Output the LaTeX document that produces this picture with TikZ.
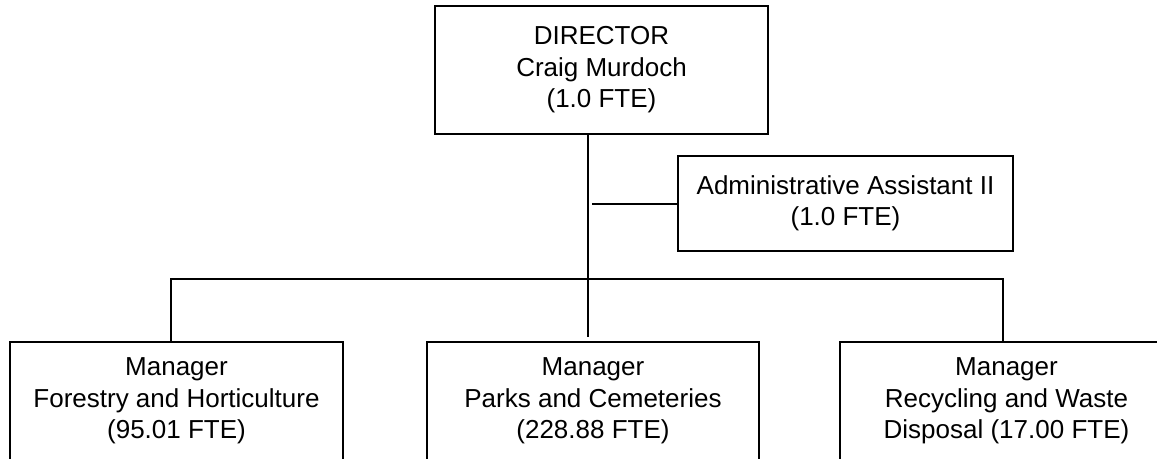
\documentclass[tikz,border=0pt]{standalone}
\usepackage{fontspec}
\setmainfont{Liberation Sans}
\begin{document}
\begin{tikzpicture}[x=1pt,y=-1pt,
  orgbox/.style={draw=black,line width=2.2pt,fill=white,rectangle,anchor=north west,
    align=center,inner sep=0pt,outer sep=0pt,
    font=\fontsize{26}{31.5}\selectfont},
  link/.style={draw=black,line width=2pt}]
  \useasboundingbox (0,0) rectangle (1157,458);
  \clip (0,0) rectangle (1157,458);

  % director and assistant
  \node[orgbox,minimum width=333,minimum height=128] (dir) at (435,6)
    {DIRECTOR\\Craig Murdoch\\(1.0 FTE)};
  \node[orgbox,minimum width=335,minimum height=95] (adm) at (678,156)
    {Administrative Assistant II\\(1.0 FTE)};

  % managers (boxes run past the lower edge)
  \node[orgbox,minimum width=333,minimum height=118] (m1) at (10,342)
    {Manager\\Forestry and Horticulture\\(95.01 FTE)};
  \node[orgbox,minimum width=332,minimum height=118] (m2) at (427,342)
    {Manager\\Parks and Cemeteries\\(228.88 FTE)};
  \node[orgbox,minimum width=333,minimum height=118] (m3) at (840,342)
    {Manager\\Recycling and Waste\\Disposal (17.00 FTE)};

  % connector guides
  \coordinate (tr) at (588,0);
  \coordinate (lx) at (171,279);
  \coordinate (rx) at (1003,279);

  % trunk, assistant stub and bus to the managers
  \draw[link,shorten >=5pt] (dir.south -| tr) -- (m2.north -| tr);
  \draw[link,shorten >=4pt] (adm.west) -- (adm.west -| tr);
  \draw[link] (m1.north -| lx) -- (lx) -- (rx) -- (m3.north -| rx);
\end{tikzpicture}
\end{document}
